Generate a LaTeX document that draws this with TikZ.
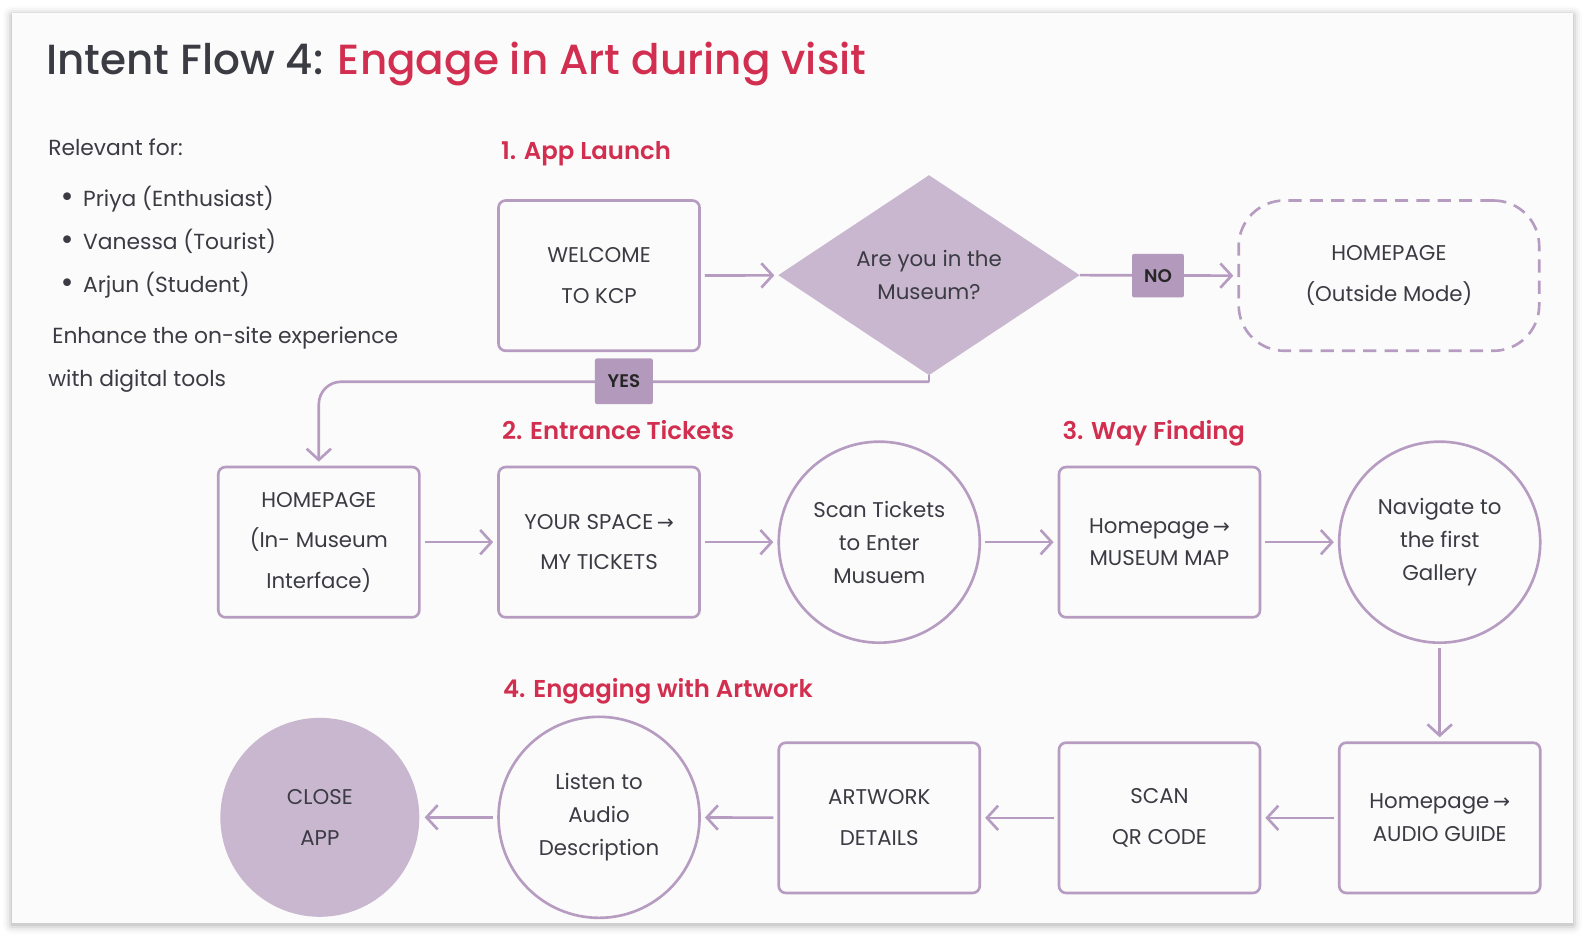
\documentclass[tikz,border=0pt]{standalone}
\usepackage{fontspec}
\setmainfont{Poppins}
\newfontfamily\titlefont{Poppins}[UprightFont=* Medium]
\newfontfamily\headfont{Poppins}[UprightFont=* SemiBold]
\newfontfamily\arrowfont{DejaVu Sans}
\usetikzlibrary{arrows.meta,positioning,shapes.geometric}

\definecolor{ink}{HTML}{3B3B43}
\definecolor{accent}{HTML}{D22F50}
\definecolor{lilac}{HTML}{B79CC2}
\definecolor{lilacfill}{HTML}{C9B7CF}
\definecolor{tagfill}{HTML}{B399BB}
\definecolor{cardbg}{HTML}{FBFBFB}

\newcommand{\goesto}{{\arrowfont\fontsize{20}{20}\selectfont →}}
\newcommand{\dotitem}{{\arrowfont\fontsize{26}{26}\selectfont •}\hspace{8pt}}

\begin{document}
\begin{tikzpicture}[x=1pt, y=-1pt,
  box/.style={draw=lilac, line width=2.6pt, rounded corners=7pt, minimum width=198pt, minimum height=148pt, align=center, text=ink, font=\fontsize{21}{40}\selectfont},
  disc/.style={circle, draw=lilac, line width=2.6pt, minimum size=198pt, inner sep=0pt, align=center, text=ink, font=\fontsize{21}{32.5}\selectfont},
  tag/.style={fill=tagfill, rounded corners=2pt, inner sep=0pt, text=black!85, font=\headfont\fontsize{18}{18}\selectfont},
  heading/.style={anchor=base west, text=accent, font=\headfont\fontsize{24}{24}\selectfont},
  plain/.style={anchor=base west, text=ink, font=\fontsize{21.5}{21.5}\selectfont},
  flow/.style={draw=lilac, line width=2.6pt, -{Straight Barb[length=11pt,width=24pt]}, shorten <=4pt, shorten >=4pt}
]
  \useasboundingbox (0,0) rectangle (1568,928);
  \fill[white] (0,0) rectangle (1568,928);
  % card with a soft shadow
  \foreach \d/\o in {9/0.015, 7/0.025, 5/0.035, 3/0.05, 1/0.07}
    \fill[black, opacity=\o, rounded corners=\d pt] (12-\d,13-\d+2) rectangle (1549+\d,909+\d+2);
  \fill[cardbg] (12,13) rectangle (1549,909);

  \node[anchor=base west, font=\titlefont\fontsize{41.5}{41.5}\selectfont] (title) at (42,73)
    {\textcolor{ink}{Intent Flow 4:} \textcolor{accent}{Engage in Art during visit}};

  \node[plain] (relevant) at (44,153) {Relevant for:};
  \node[plain] (priya) at (55,203) {\dotitem Priya (Enthusiast)};
  \node[plain] (vanessa) at (55,245.5) {\dotitem Vanessa (Tourist)};
  \node[plain] (arjun) at (55,288) {\dotitem Arjun (Student)};
  \node[plain] (goal) at (48,338) {Enhance the on-site experience};
  \node[plain] (goal2) at (44,381) {with digital tools};

  \node[heading] (h1) at (490,157) {1. App Launch};
  \node[heading] (h2) at (491,433) {2. Entrance Tickets};
  \node[heading] (h3) at (1043,433) {3. Way Finding};
  \node[heading] (h4) at (492,687) {4. Engaging with Artwork};

  % row 1
  \node[box] (welcome) at (590,271.5) {WELCOME\\TO KCP};
  \node[diamond, fill=lilacfill, minimum width=297pt, minimum height=197pt, inner sep=0pt, align=center, text=ink, font=\fontsize{21}{32}\selectfont] (inside) at (915,271) {Are you in the\\Museum?};
  \node[box, dashed, dash pattern=on 13pt off 8pt, rounded corners=45pt, minimum width=296pt] (outside) at (1368,271.5) {HOMEPAGE\\(Outside Mode)};

  % row 2
  \node[box] (inmuseum) at (314,534) {HOMEPAGE\\(In- Museum\\Interface)};
  \node[box] (tickets) at (590,534) {YOUR SPACE\,\goesto\\MY TICKETS};
  \node[disc] (scanticket) at (866,534) {Scan Tickets\\to Enter\\Musuem};
  \node[box, font=\fontsize{21}{32}\selectfont] (map) at (1142,534) {Homepage\,\goesto\\MUSEUM MAP};
  \node[disc] (gallery) at (1418,534) {Navigate to\\the first\\Gallery};

  % row 3
  \node[box, font=\fontsize{21}{32}\selectfont] (audioguide) at (1418,805.5) {Homepage\,\goesto\\AUDIO GUIDE};
  \node[box] (scanqr) at (1142,805.5) {SCAN\\QR CODE};
  \node[box] (artwork) at (866,805.5) {ARTWORK\\DETAILS};
  \node[disc] (listen) at (590,805) {Listen to\\Audio\\Description};
  \node[disc, draw=none, fill=lilacfill, minimum size=196pt, font=\fontsize{21}{40}\selectfont] (close) at (315,805) {CLOSE\\APP};

  % connectors
  \draw[flow] (welcome) -- (inside);
  \draw[flow, shorten <=0pt] (inside.east) -- (outside.west);
  \node[tag, minimum width=51pt, minimum height=43pt] (no) at (1140.5,271.5) {NO};

  \coordinate (yesrow) at (915,376);
  \draw[draw=lilac, line width=2.6pt] (inside.south) -- (yesrow);
  \draw[flow, shorten <=0pt, rounded corners=22pt] (yesrow) -| (inmuseum.north);
  \node[tag, minimum width=57pt, minimum height=45pt] (yes) at (614.5,375.5) {YES};

  \draw[flow] (inmuseum) -- (tickets);
  \draw[flow] (tickets) -- (scanticket);
  \draw[flow] (scanticket) -- (map);
  \draw[flow] (map) -- (gallery);
  \draw[flow] (gallery) -- (audioguide);
  \draw[flow] (audioguide) -- (scanqr);
  \draw[flow] (scanqr) -- (artwork);
  \draw[flow] (artwork) -- (listen);
  \draw[flow] (listen) -- (close);
\end{tikzpicture}
\end{document}
